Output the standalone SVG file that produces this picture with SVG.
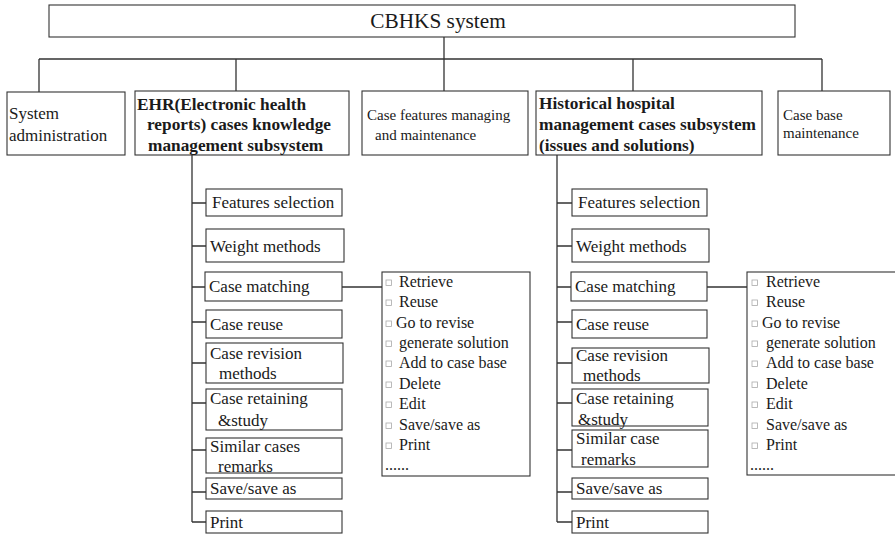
<svg xmlns="http://www.w3.org/2000/svg" width="895" height="536" viewBox="0 0 895 536">
  <style>
    .box { fill: #fff; stroke: #333; stroke-width: 1.1; }
    .wire { fill: none; stroke: #333; stroke-width: 1.3; }
    text { font-family: "Liberation Serif", "Times New Roman", serif; fill: #1a1a1a; }
    .t16 { font-size: 16px; }
    .t17 { font-size: 17px; }
    .t15 { font-size: 15px; }
    .ts { font-size: 15px; }
    .b { font-size: 17.3px; font-weight: bold; }
    .top { font-size: 21.3px; }
    .bul { fill: #fff; stroke: #aaa; stroke-width: 0.8; }
  </style>
  <defs>
    <rect id="bullet" class="bul" x="0" y="-7" width="5.5" height="5.5"/>
  </defs>
  <rect width="895" height="536" fill="#fff"/>

  <!-- connectors -->
  <g id="connectors">
    <path class="wire" d="M444 37 V59 M39 59 H822 M39 59 V92 M236 59 V91 M444 59 V91 M633 59 V91 M822 59 V91"/>
    <!-- left subsystem tree -->
    <path class="wire" d="M192 155 V522 M192 203 H206 M192 246 H206 M192 287 H205 M192 322 H206 M192 363 H206 M192 403 H206 M192 450 H206 M192 492 H206 M192 522 H206"/>
    <path class="wire" d="M342 287 H382"/>
    <!-- right subsystem tree -->
    <path class="wire" d="M557 155 V522 M557 203 H572 M557 246 H572 M557 287 H571 M557 322 H572 M557 363 H572 M557 403 H572 M557 450 H572 M557 492 H572 M557 522 H572"/>
    <path class="wire" d="M707 287 H747"/>
  </g>

  <g id="root">
    <rect class="box" x="49" y="5" width="746" height="32"/>
    <text class="top" x="438" y="28" text-anchor="middle">CBHKS system</text>
  </g>

  <g id="sys-admin">
    <rect class="box" x="7" y="92" width="118" height="63"/>
    <text class="t17" x="9" y="119">System</text>
    <text class="t17" x="9" y="141">administration</text>
  </g>

  <g id="ehr">
    <rect class="box" x="135" y="91" width="214" height="64"/>
    <text class="b" x="137" y="110">EHR(Electronic health</text>
    <text class="b" x="147" y="130">reports) cases knowledge</text>
    <text class="b" x="148" y="151">management subsystem</text>
  </g>

  <g id="case-features">
    <rect class="box" x="362" y="91" width="166" height="64"/>
    <text class="ts" x="367" y="120">Case features managing</text>
    <text class="ts" x="375" y="140">and maintenance</text>
  </g>

  <g id="historical">
    <rect class="box" x="536" y="91" width="226" height="64"/>
    <text class="b" x="539" y="109">Historical hospital</text>
    <text class="b" x="539" y="130">management cases subsystem</text>
    <text class="b" x="539" y="151">(issues and solutions)</text>
  </g>

  <g id="case-base">
    <rect class="box" x="778" y="91" width="112" height="64"/>
    <text class="ts" x="783" y="120">Case base</text>
    <text class="ts" x="783" y="138">maintenance</text>
  </g>

  <!-- EHR subsystem functions -->
  <g id="l-features">
    <rect class="box" x="206" y="189" width="136" height="27"/>
    <text class="t17" x="212" y="208">Features selection</text>
  </g>
  <g id="l-weight">
    <rect class="box" x="206" y="229" width="138" height="33"/>
    <text class="t17" x="210" y="252">Weight methods</text>
  </g>
  <g id="l-matching">
    <rect class="box" x="205" y="272" width="137" height="29"/>
    <text class="t17" x="209" y="292">Case matching</text>
  </g>
  <g id="l-reuse">
    <rect class="box" x="206" y="310" width="136" height="28"/>
    <text class="t17" x="210" y="330">Case reuse</text>
  </g>
  <g id="l-revision">
    <rect class="box" x="206" y="343" width="137" height="40"/>
    <text class="t17" x="210" y="359">Case revision</text>
    <text class="t17" x="219" y="379">methods</text>
  </g>
  <g id="l-retaining">
    <rect class="box" x="206" y="389" width="136" height="41"/>
    <text class="t17" x="210" y="404">Case retaining</text>
    <text class="t17" x="218" y="426">&amp;study</text>
  </g>
  <g id="l-similar">
    <rect class="box" x="206" y="438" width="136" height="35"/>
    <text class="t17" x="210" y="452">Similar cases</text>
    <text class="t17" x="218" y="472">remarks</text>
  </g>
  <g id="l-save">
    <rect class="box" x="206" y="478" width="136" height="21"/>
    <text class="t17" x="210" y="494">Save/save as</text>
  </g>
  <g id="l-print">
    <rect class="box" x="206" y="511" width="136" height="22"/>
    <text class="t17" x="210" y="528">Print</text>
  </g>

  <g id="l-operations">
    <rect class="box" x="382" y="272" width="148" height="204"/>
    <use href="#bullet" x="386" y="287"/><text class="t16" x="399" y="287">Retrieve</text>
    <use href="#bullet" x="386" y="307"/><text class="t16" x="399" y="307">Reuse</text>
    <use href="#bullet" x="386" y="328"/><text class="t16" x="396" y="328">Go to revise</text>
    <use href="#bullet" x="386" y="348"/><text class="t16" x="399" y="348">generate solution</text>
    <use href="#bullet" x="386" y="368"/><text class="t16" x="399" y="368">Add to case base</text>
    <use href="#bullet" x="386" y="389"/><text class="t16" x="399" y="389">Delete</text>
    <use href="#bullet" x="386" y="409"/><text class="t16" x="399" y="409">Edit</text>
    <use href="#bullet" x="386" y="430"/><text class="t16" x="399" y="430">Save/save as</text>
    <use href="#bullet" x="386" y="450"/><text class="t16" x="399" y="450">Print</text>
    <text class="t16" x="385" y="470">......</text>
  </g>

  <!-- Historical subsystem functions -->
  <g id="r-features">
    <rect class="box" x="572" y="189" width="135" height="27"/>
    <text class="t17" x="578" y="208">Features selection</text>
  </g>
  <g id="r-weight">
    <rect class="box" x="572" y="229" width="137" height="33"/>
    <text class="t17" x="576" y="252">Weight methods</text>
  </g>
  <g id="r-matching">
    <rect class="box" x="571" y="272" width="136" height="29"/>
    <text class="t17" x="575" y="292">Case matching</text>
  </g>
  <g id="r-reuse">
    <rect class="box" x="572" y="310" width="135" height="28"/>
    <text class="t17" x="576" y="330">Case reuse</text>
  </g>
  <g id="r-revision">
    <rect class="box" x="572" y="348" width="137" height="35"/>
    <text class="t17" x="576" y="361">Case revision</text>
    <text class="t17" x="583" y="381">methods</text>
  </g>
  <g id="r-retaining">
    <rect class="box" x="572" y="389" width="136" height="37"/>
    <text class="t17" x="576" y="404">Case retaining</text>
    <text class="t17" x="578" y="425">&amp;study</text>
  </g>
  <g id="r-similar">
    <rect class="box" x="572" y="430" width="136" height="37"/>
    <text class="t17" x="576" y="444">Similar case</text>
    <text class="t17" x="581" y="465">remarks</text>
  </g>
  <g id="r-save">
    <rect class="box" x="572" y="478" width="136" height="21"/>
    <text class="t17" x="576" y="494">Save/save as</text>
  </g>
  <g id="r-print">
    <rect class="box" x="572" y="511" width="136" height="22"/>
    <text class="t17" x="576" y="528">Print</text>
  </g>

  <g id="r-operations">
    <rect class="box" x="747" y="272" width="150" height="203"/>
    <use href="#bullet" x="752" y="287"/><text class="t16" x="766" y="287">Retrieve</text>
    <use href="#bullet" x="752" y="307"/><text class="t16" x="766" y="307">Reuse</text>
    <use href="#bullet" x="752" y="328"/><text class="t16" x="762" y="328">Go to revise</text>
    <use href="#bullet" x="752" y="348"/><text class="t16" x="766" y="348">generate solution</text>
    <use href="#bullet" x="752" y="368"/><text class="t16" x="766" y="368">Add to case base</text>
    <use href="#bullet" x="752" y="389"/><text class="t16" x="766" y="389">Delete</text>
    <use href="#bullet" x="752" y="409"/><text class="t16" x="766" y="409">Edit</text>
    <use href="#bullet" x="752" y="430"/><text class="t16" x="766" y="430">Save/save as</text>
    <use href="#bullet" x="752" y="450"/><text class="t16" x="766" y="450">Print</text>
    <text class="t16" x="750" y="470">......</text>
  </g>
</svg>
